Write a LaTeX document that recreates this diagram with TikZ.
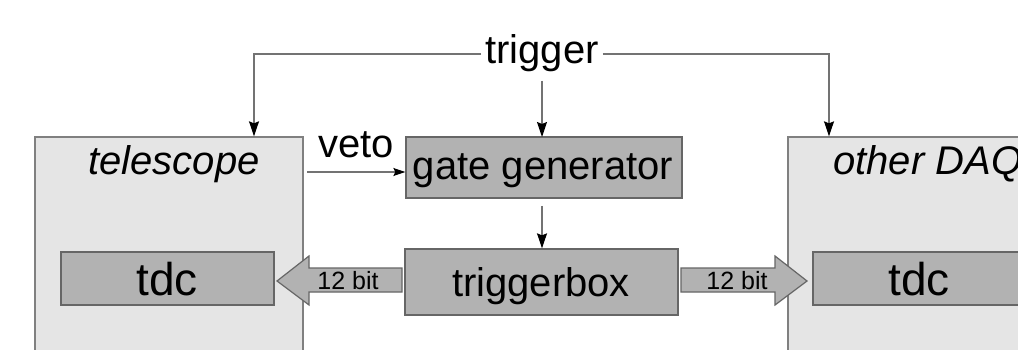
\documentclass[tikz,border=0pt]{standalone}
\usepackage{fontspec}
\setmainfont{Liberation Sans}
\usetikzlibrary{arrows.meta}
\begin{document}
\begin{tikzpicture}[x=1pt,y=-1pt,
  outerbox/.style={draw=black!50,line width=1.3pt,fill=black!10,inner sep=0pt,minimum width=268pt},
  innerbox/.style={draw=black!60,line width=1.3pt,fill=black!30,inner sep=0pt},
  big/.style={font=\fontsize{40}{48}\selectfont,inner sep=0pt},
  bigger/.style={font=\fontsize{46}{54}\selectfont,inner sep=0pt},
  small/.style={font=\fontsize{25}{30}\selectfont,inner sep=0pt},
  sig/.style={draw=black!55,line width=1.2pt,-{Stealth[length=15pt,width=10pt,inset=2pt,black]}},
  fat/.style={draw=black!60,line width=1.2pt,fill=black!30,line join=miter}]
\useasboundingbox (0,0) rectangle (1018,350);
\clip (0,0) rectangle (1018,350);
\fill[white] (0,0) rectangle (1018,350);

% outer systems
\node[outerbox,minimum height=232pt] (tel) at (169,253) {};
\node[outerbox,minimum height=232pt] (daq) at (922,253) {};
\node[big,anchor=base] (tellbl) at (174,175) {\itshape telescope};
\node[big,anchor=base west] (daqlbl) at (833,175) {\itshape other DAQ};

% tdc modules
\node[innerbox,minimum width=213pt,minimum height=53pt] (tdcl) at (167.5,278.5) {};
\node[innerbox,minimum width=213pt,minimum height=53pt] (tdcr) at (919.5,278.5) {};
\node[bigger,anchor=base] (tdcllbl) at (167,295) {tdc};
\node[bigger,anchor=base] (tdcrlbl) at (919,295) {tdc};

% central logic
\node[innerbox,minimum width=276pt,minimum height=61pt] (gate) at (544,167.5) {};
\node[big,anchor=base] (gatelbl) at (543,180) {gate generator};
\node[innerbox,minimum width=273pt,minimum height=66pt] (tbox) at (541.5,282) {};
\node[big,anchor=base] (tboxlbl) at (541,296) {triggerbox};

% trigger distribution
\node[big,anchor=base] (trig) at (542,64) {trigger};
\coordinate (tl) at (254,54);
\coordinate (tr) at (829,54);
\draw[sig] ([xshift=-4pt]trig.west |- tl) -- (tl) -- (tl |- tel.north);
\draw[sig] ([xshift=4pt]trig.east |- tr) -- (tr) -- (tr |- daq.north);
\draw[sig] (542,81) -- (542,137);
\draw[sig,-{Stealth[length=12pt,width=8pt,inset=2pt,black]}] (307,172) -- (gate.west |- 0,172);
\node[big,anchor=base] (veto) at (356,158) {veto};
\draw[sig] (542,206) -- (tbox.north -| 542,0);

% 12 bit data buses
\draw[fat] (402,268) -- (309,268) -- (309,256) -- (277,281) -- (309,305) -- (309,292) -- (402,292) -- cycle;
\draw[fat] (681,268) -- (775,268) -- (775,256) -- (807,281) -- (775,305) -- (775,292) -- (681,292) -- cycle;
\node[small,anchor=base] (busl) at (348,289) {12 bit};
\node[small,anchor=base] (busr) at (737,289) {12 bit};
\end{tikzpicture}
\end{document}
